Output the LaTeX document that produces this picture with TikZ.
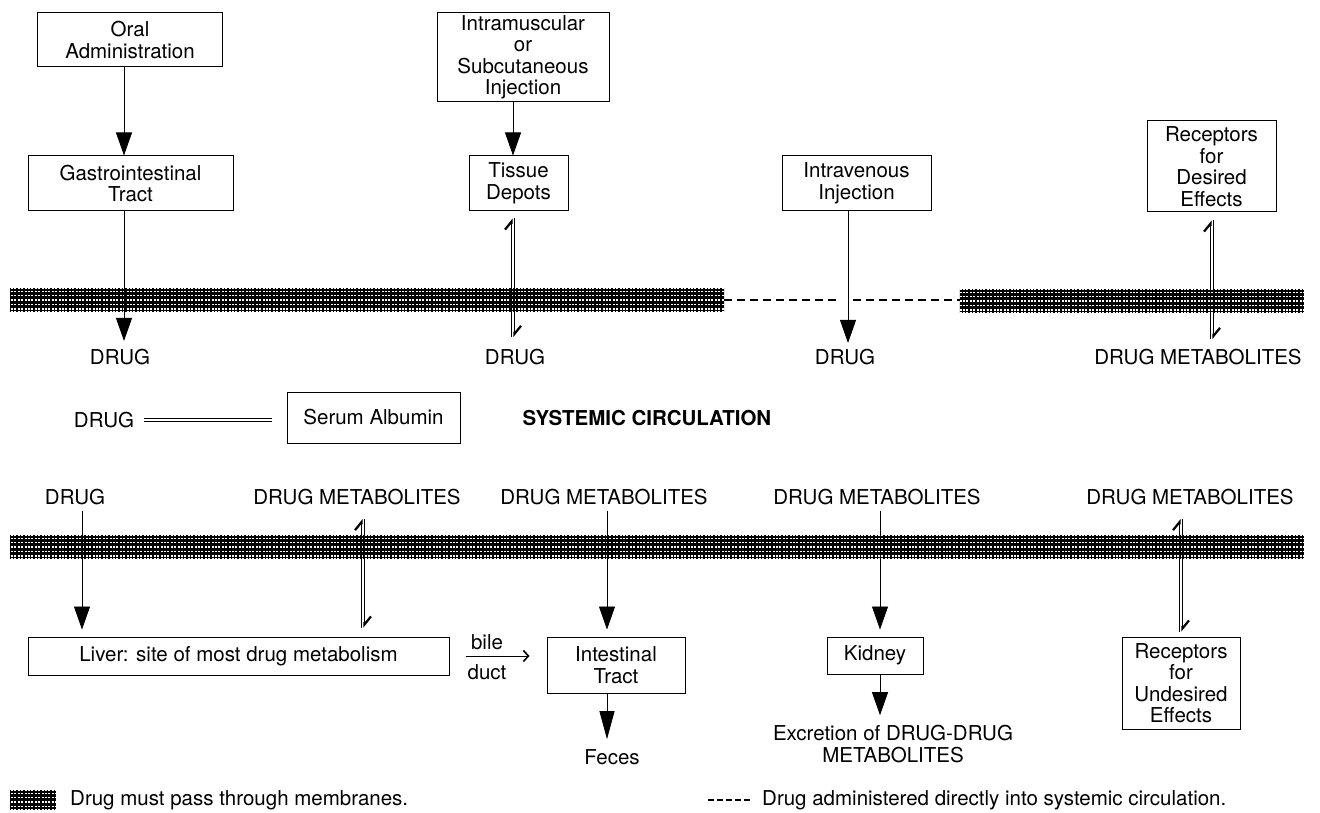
\documentclass[tikz,border=0pt]{standalone}
\usepackage{fontspec}
\setmainfont{TeX Gyre Heros}
\usetikzlibrary{arrows.meta,calc}
\newcommand\meshover[1]{%
  \begin{scope}
    \clip (#1.north west) rectangle (#1.south east);
    \foreach \k in {2.5,6.9,...,22} \draw[white,line width=1.3pt] ($(#1.north west)+(0,\k)$) -- ($(#1.north east)+(0,\k)$);
    \foreach \xx in {0,3.4,...,1320} \draw[black,line width=1.4pt] (\xx,0) -- (\xx,813);
  \end{scope}}
\begin{document}
\begin{tikzpicture}[x=1pt,y=-1pt,
  font=\fontsize{20.5}{21.5}\selectfont,
  box/.style={draw, line width=1pt, inner sep=0pt, align=center},
  lbl/.style={inner sep=0pt, align=center},
  arr/.style={line width=0.8pt, -{Triangle[length=23pt,width=16pt]}},
  longarr/.style={line width=0.8pt, -{Triangle[length=28pt,width=15pt]}},
  harp/.style={line width=0.8pt, -{Straight Barb[harpoon,length=8pt,width=13pt,line width=2.2pt]}},
  bilearr/.style={line width=1pt, -{Straight Barb[length=5pt,width=11pt,line width=1.6pt]}},
  band/.style={fill=black, inner sep=0pt, minimum height=22pt},
  eqline/.style={double, double distance=2pt, line width=0.7pt},
  direct/.style={line width=1.2pt, dash pattern=on 8pt off 5pt},
]
\useasboundingbox[fill=white] (0,0) rectangle (1320,813);

% membranes
\node[band, minimum width=714pt] (b1) at (367,300) {};
\node[band, minimum width=344pt] (b2) at (1132,301) {};
\node[band, minimum width=1294pt] (b3) at (657,547) {};
\node[band, minimum width=46pt, minimum height=18pt] (b4) at (33,800) {};
\meshover{b1}\meshover{b2}\meshover{b3}\meshover{b4}

% top boxes
\node[box, minimum width=185pt, minimum height=54pt] (oral) at (130,40) {Oral\\Administration};
\node[box, minimum width=205pt, minimum height=55pt] (gi) at (130.5,183.5) {Gastrointestinal\\Tract};
\node[box, minimum width=172pt, minimum height=89pt] (im) at (523,57.5) {Intramuscular\\or\\Subcutaneous\\Injection};
\node[box, minimum width=99pt, minimum height=55pt] (depots) at (518.5,183.5) {Tissue\\Depots};
\node[box, minimum width=149pt, minimum height=55pt] (iv) at (856.5,183.5) {Intravenous\\Injection};
\node[box, minimum width=129pt, minimum height=91pt] (rdes) at (1211.5,166.5) {Receptors\\for\\Desired\\Effects};

% top labels
\node[lbl] (d1) at (120,357) {DRUG};
\node[lbl] (d2) at (515,357) {DRUG};
\node[lbl] (d3) at (845,357) {DRUG};
\node[lbl] (dm0) at (1198,357) {DRUG METABOLITES};

% top connectors
\coordinate (x1) at (124,0);
\draw[arr] (oral.south -| x1) -- (gi.north -| x1);
\draw[arr] (gi.south -| x1) -- ($(d1.north -| x1)+(0,-8)$);
\coordinate (x2) at (513,0);
\draw[arr] (im.south -| x2) -- (depots.north -| x2);
\draw[harp] ($(d2.north -| x2)+(-1.5,-12)$) -- ($(depots.south -| x2)+(-1.5,7)$);
\draw[harp] ($(depots.south -| x2)+(1.5,7)$) -- ($(d2.north -| x2)+(1.5,-12)$);
\coordinate (x3) at (848,0);
\draw[arr] (iv.south -| x3) -- ($(d3.north -| x3)+(0,-6)$);
\coordinate (x4) at (1212,0);
\draw[harp] ($(dm0.north -| x4)+(-1.5,-10)$) -- ($(rdes.south -| x4)+(-1.5,8)$);
\draw[harp] ($(rdes.south -| x4)+(1.5,8)$) -- ($(dm0.north -| x4)+(1.5,-10)$);

% direct entry (dashed), broken where the IV line crosses
\draw[direct] (b1.east) -- ($(b1.east -| x3)+(-10,0)$);
\draw[direct] ($(b1.east -| x3)+(5,0)$) -- (b2.west |- b1.east);

% middle row
\node[lbl] (dr) at (104,420) {DRUG};
\node[box, minimum width=173pt, minimum height=51pt] (alb) at (373.5,417.5) {Serum Albumin};
\draw[eqline] ($(dr.east)+(10,0)$) -- ($(alb.west |- dr.east)+(-15,0)$);
\node[lbl, font=\fontsize{20.5}{21.5}\selectfont\bfseries] (sys) at (647,418) {SYSTEMIC CIRCULATION};

% lower labels
\node[lbl] (l1) at (75,497) {DRUG};
\node[lbl] (l2) at (357,497) {DRUG METABOLITES};
\node[lbl] (l3) at (604,497) {DRUG METABOLITES};
\node[lbl] (l4) at (877,497) {DRUG METABOLITES};
\node[lbl] (l5) at (1190,497) {DRUG METABOLITES};

% lower boxes
\node[box, minimum width=421pt, minimum height=38pt] (liver) at (238.5,656) {Liver: site of most drug metabolism};
\node[box, minimum width=138pt, minimum height=56pt] (intest) at (616,665) {Intestinal\\Tract};
\node[box, minimum width=96pt, minimum height=37pt] (kid) at (875,655.5) {Kidney};
\node[box, minimum width=118pt, minimum height=92pt] (rund) at (1181,683) {Receptors\\for\\Undesired\\Effects};

% lower connectors
\coordinate (y1) at (82,0);
\draw[arr] ($(l1.south -| y1)+(0,6)$) -- ($(liver.north -| y1)+(0,-7)$);
\coordinate (y2) at (363,0);
\draw[harp] ($(liver.north -| y2)+(-1.5,-9)$) -- ($(l2.south -| y2)+(-1.5,14)$);
\draw[harp] ($(l2.south -| y2)+(1.5,14)$) -- ($(liver.north -| y2)+(1.5,-9)$);
\coordinate (y3) at (607,0);
\draw[arr] ($(l3.south -| y3)+(0,6)$) -- ($(intest.north -| y3)+(0,-7)$);
\coordinate (y4) at (880,0);
\draw[arr] ($(l4.south -| y4)+(0,6)$) -- ($(kid.north -| y4)+(0,-7)$);
\coordinate (y5) at (1181,0);
\draw[harp] ($(rund.north -| y5)+(-1.5,-5)$) -- ($(l5.south -| y5)+(-1.5,14)$);
\draw[harp] ($(l5.south -| y5)+(1.5,14)$) -- ($(rund.north -| y5)+(1.5,-5)$);

% bile duct
\draw[bilearr] ($(liver.east)+(16,0)$) -- ($(liver.east -| intest.west)+(-17,0)$);
\node[lbl] (bile) at (487,642) {bile};
\node[lbl] (duct) at (487,672) {duct};

% outputs
\node[lbl] (feces) at (612,757) {Feces};
\draw[longarr] (intest.south -| y3) -- ($(feces.north -| y3)+(0,-10)$);
\node[lbl] (excr) at (893,744) {Excretion of DRUG-DRUG\\METABOLITES};
\draw[arr] (kid.south -| y4) -- ($(excr.north -| y4)+(0,-10)$);

% legend
\node[lbl, anchor=west] (leg1) at (70,800) {Drug must pass through membranes.};
\coordinate (ld1) at (708,800);
\coordinate (ld2) at (752,800);
\draw[line width=1.2pt, dash pattern=on 6pt off 3pt] (ld1) -- (ld2);
\node[lbl, anchor=west] (leg2) at (762,800) {Drug administered directly into systemic circulation.};
\end{tikzpicture}
\end{document}
